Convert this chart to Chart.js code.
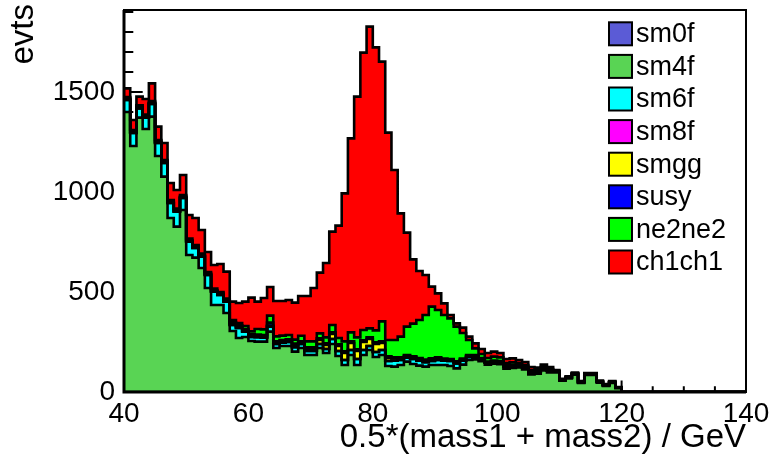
<!DOCTYPE html>
<html><head><meta charset="utf-8">
<script src="https://cdn.jsdelivr.net/npm/chart.js@4.4.0/dist/chart.umd.min.js"></script>
<style>html,body{margin:0;padding:0;background:#fff}#wrap{width:772px;height:464px;position:relative}</style>
</head><body><div id="wrap"><canvas id="c"></canvas></div>
<script>
// ---- data (1 GeV bins from 40 to 140) ----
const binStart = 40;
const binEnd = 140;
const xTicks = [40, 60, 80, 100, 120, 140];
const yTicks = [0, 500, 1000, 1500];
const seriesNames = ['sm0f','sm4f','sm6f','sm8f','smgg','susy','ne2ne2','ch1ch1'];
const seriesColors = ['#5b5bd6','#59d454','#00ffff','#ff00ff','#ffff00','#0000ff','#00ff00','#ff0000'];

const sm0f = [
0,0,0,0,0,0,0,0,0,0, 0,0,0,0,0,0,0,0,0,0, 0,0,0,0,0,0,0,0,0,0, 0,0,0,0,0,0,0,0,0,0, 0,0,0,0,0,0,0,0,0,0,
0,0,0,0,0,0,0,0,0,0, 0,0,0,0,0,0,0,0,0,0, 0,0,0,0,0,0,0,0,0,0, 0,0,0,0,0,0,0,0,0,0, 0,0,0,0,0,0,0,0,0,0];
const sm4f = [
1400,1230,1372,1315,1377,1180,1077,870,827,910,
685,672,620,520,435,435,395,305,270,275,
255,252,252,302,220,230,230,202,220,185,
185,220,195,240,180,135,185,135,185,210,
175,185,130,127,135,152,140,132,127,135,
135,135,130,118,137,160,163,154,136,141,
139,117,120,123,113,88,91,108,98,98,
56,68,87,45,85,85,47,30,45,19,
0,0,0,0,0,0,0,0,0,0,
0,0,0,0,0,0,0,0,0,0];
const sm6f = [
60,65,46,57,63,65,68,75,75,60,
67,48,57,65,67,50,57,30,50,27,
20,22,20,25,20,17,20,22,20,20,
20,20,20,25,25,25,25,30,25,20,
25,25,25,30,25,20,25,25,22,20,
25,22,25,25,20,15,12,10,10,10,
10,10,10,8,8,8,8,8,8,4,
4,4,4,4,4,4,4,4,4,2,
0,0,0,0,0,0,0,0,0,0,
0,0,0,0,0,0,0,0,0,0];
const sm8f = [
0,0,0,0,0,0,0,0,0,0, 0,0,0,0,0,0,0,0,0,0, 0,0,0,0,0,0,0,0,0,0, 0,0,0,0,0,0,0,0,0,0, 0,0,0,0,0,0,0,0,0,0,
0,0,0,0,0,0,0,0,0,0, 0,0,0,0,0,0,0,0,0,0, 0,0,0,0,0,0,0,0,0,0, 0,0,0,0,0,0,0,0,0,0, 0,0,0,0,0,0,0,0,0,0];
const smgg = [
3,3,3,3,3,3,3,3,3,3,
3,3,3,3,3,3,3,5,5,5,
5,5,5,5,5,5,5,10,5,10,
10,20,20,25,25,35,35,40,40,35,
40,35,15,12,8,8,8,8,8,8,
8,5,5,5,5,5,5,3,3,3,
3,3,3,3,3,3,0,0,0,0,
0,0,0,0,0,0,0,0,0,0,
0,0,0,0,0,0,0,0,0,0,
0,0,0,0,0,0,0,0,0,0];
const susy = [
4,4,4,4,4,4,4,4,4,4,
4,4,4,4,4,4,4,8,8,8,
8,8,8,15,8,8,8,8,8,8,
8,8,8,8,8,8,8,8,8,8,
8,8,8,5,5,5,5,5,5,5,
5,5,5,5,5,5,5,3,3,3,
3,3,3,3,3,3,3,3,3,0,
0,0,0,0,0,0,0,0,0,0,
0,0,0,0,0,0,0,0,0,0,
0,0,0,0,0,0,0,0,0,0];
const ne2ne2 = [
8,8,8,8,8,8,8,8,8,8,
8,8,8,8,8,8,8,12,12,15,
15,28,28,35,25,22,22,20,28,30,
30,25,30,37,32,50,45,60,52,45,
60,100,82,86,104,142,164,190,223,259,
237,218,203,174,128,75,33,20,18,20,
18,12,12,8,8,8,8,6,6,3,
3,3,3,3,3,3,3,3,3,2,
0,0,0,0,0,0,0,0,0,0,
0,0,0,0,0,0,0,0,0,0];
const ch1ch1 = [
43,50,44,78,88,67,85,85,93,100,
118,135,118,100,118,140,135,92,100,122,
169,137,157,143,177,173,175,185,199,227,
267,304,372,467,562,740,970,1204,1387,1509,
1415,1299,1037,850,616,470,321,245,200,100,
83,58,17,16,27,17,25,25,25,25,
22,20,20,15,15,15,12,12,10,5,
3,3,3,3,3,3,3,3,3,2,
0,0,0,0,0,0,0,0,0,0,
0,0,0,0,0,0,0,0,0,0];

const seriesValues = [sm0f, sm4f, sm6f, sm8f, smgg, susy, ne2ne2, ch1ch1];

// histogram steps: each value holds from its bin's low edge to the next edge
function toSteps(vals) {
  const pts = vals.map((v, i) => ({x: binStart + i, y: v}));
  pts.push({x: binEnd, y: 0});
  return pts;
}

const FONT = "'Liberation Sans', Arial, Helvetica, sans-serif";
Chart.defaults.font.family = FONT;
Chart.defaults.color = '#000';

const datasets = seriesNames.map((name, k) => ({
  label: name,
  data: toSteps(seriesValues[k]),
  backgroundColor: seriesColors[k],
  borderColor: '#000',
  borderWidth: 2.6,
  fill: k === 0 ? 'origin' : '-1',
  stepped: true,
  pointRadius: 0,
  tension: 0
}));

const rootTicks = {
  id: 'rootTicks',
  beforeDraw(chart) {
    const {ctx, chartArea: a, scales: {x, y}} = chart;
    ctx.save();
    ctx.strokeStyle = '#000';
    ctx.lineWidth = 2;
    ctx.beginPath();
    for (let v = 0; v <= y.max; v += 100) {
      const py = Math.round(y.getPixelForValue(v));
      const len = (v % 500 === 0) ? 18.7 : 9.3;
      ctx.moveTo(a.left, py); ctx.lineTo(a.left + len, py);
    }
    for (let v = binStart; v <= binEnd; v += 5) {
      const px = x.getPixelForValue(v);
      const len = ((v - binStart) % 20 === 0) ? 11.5 : 5.7;
      ctx.moveTo(px, a.bottom); ctx.lineTo(px, a.bottom - len);
    }
    ctx.stroke();
    ctx.restore();
  },
  afterDatasetsDraw(chart) {
    const {ctx, chartArea: a} = chart;
    ctx.save();
    ctx.strokeStyle = '#000';
    ctx.lineWidth = 2;
    ctx.strokeRect(a.left, a.top, a.right - a.left, a.bottom - a.top);
    ctx.lineWidth = 3;
    ctx.beginPath();
    ctx.moveTo(a.left, a.top); ctx.lineTo(a.left, a.bottom); ctx.lineTo(a.right, a.bottom);
    ctx.stroke();
    ctx.restore();
  },
  afterDraw(chart) {
    const {ctx} = chart;
    ctx.save();
    // y axis title (ROOT style, right-aligned at the top)
    ctx.font = '33px ' + FONT;
    ctx.fillStyle = '#000';
    ctx.translate(33, 4);
    ctx.rotate(-Math.PI / 2);
    ctx.textAlign = 'right';
    ctx.textBaseline = 'alphabetic';
    ctx.fillText('evts', 0, 0);
    ctx.restore();

    ctx.save();
    ctx.font = '27px ' + FONT;
    ctx.textBaseline = 'middle';
    ctx.textAlign = 'left';
    chart.data.datasets.forEach((ds, i) => {
      const cy = 33.8 + i * 32.6;
      ctx.fillStyle = ds.backgroundColor;
      ctx.fillRect(609, cy - 11.5, 23, 23);
      ctx.strokeStyle = '#000';
      ctx.lineWidth = 2;
      ctx.strokeRect(609, cy - 11.5, 23, 23);
      ctx.fillStyle = '#000';
      ctx.fillText(ds.label, 636, cy + 1);
    });
    ctx.restore();
  }
};

new Chart(document.getElementById('c'), {
  type: 'line',
  data: {datasets},
  plugins: [rootTicks],
  options: {
    responsive: true,
    maintainAspectRatio: false,
    animation: false,
    events: [],
    layout: {padding: {left: 0, top: 10, right: 26, bottom: 0}},
    plugins: {
      legend: {display: false},
      tooltip: {enabled: false},
      filler: {drawTime: 'beforeDatasetsDraw'}
    },
    scales: {
      x: {
        type: 'linear', min: binStart, max: binEnd,
        grid: {display: false, drawTicks: false},
        border: {display: false},
        afterBuildTicks: s => { s.ticks = xTicks.map(v => ({value: v})); },
        afterFit: s => { s.height = 72; s.paddingLeft = 0; s.paddingRight = 0; },
        ticks: {font: {size: 28}, padding: 5, maxRotation: 0, autoSkip: false,
                callback: v => String(v)},
        title: {display: true, text: '0.5*(mass1 + mass2) / GeV', align: 'end',
                font: {size: 33}, padding: {top: 0, bottom: 6}}
      },
      y: {
        type: 'linear', min: 0, max: 1910, stacked: true,
        grid: {display: false, drawTicks: false},
        border: {display: false},
        afterBuildTicks: s => { s.ticks = yTicks.map(v => ({value: v})); },
        afterFit: s => { s.width = 124; s.paddingTop = 0; s.paddingBottom = 0; },
        ticks: {font: {size: 28}, padding: 9, callback: v => String(v)},
        title: {display: false}
      }
    }
  }
});
</script>
</body></html>
